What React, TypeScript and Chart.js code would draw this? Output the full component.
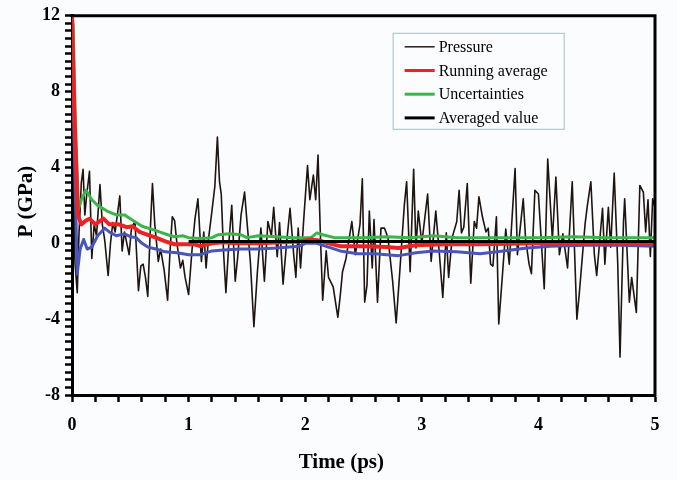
import React, { useEffect, useRef } from "react";
import { Chart, registerables } from "chart.js";

Chart.register(...registerables);

// ---- Data ----
const pressureTime = [
  0.0, 0.01, 0.025, 0.045, 0.06, 0.08, 0.095, 0.11, 0.125, 0.15, 0.17, 0.19, 0.21, 0.24, 0.26, 0.28, 0.31, 0.33, 0.35, 0.37,
  0.41, 0.43, 0.45, 0.49, 0.51, 0.54, 0.57, 0.59, 0.61, 0.63, 0.65, 0.67, 0.69, 0.71, 0.74, 0.76, 0.79, 0.82, 0.84, 0.86,
  0.88, 0.9, 0.93, 0.95, 0.97, 1.0, 1.03, 1.055, 1.08, 1.11, 1.13, 1.15, 1.17, 1.2, 1.225, 1.247, 1.265, 1.28, 1.3, 1.32,
  1.345, 1.37, 1.4, 1.42, 1.45, 1.48, 1.5, 1.53, 1.56, 1.59, 1.62, 1.65, 1.68, 1.71, 1.73, 1.76, 1.78, 1.81, 1.84, 1.87,
  1.9, 1.92, 1.94, 1.96, 1.99, 2.02, 2.04, 2.07, 2.09, 2.11, 2.13, 2.15, 2.18, 2.2, 2.24, 2.28, 2.3, 2.32, 2.35, 2.4,
  2.43, 2.47, 2.49, 2.51, 2.53, 2.55, 2.575, 2.59, 2.62, 2.65, 2.68, 2.71, 2.75, 2.78, 2.81, 2.85, 2.87, 2.9, 2.93, 2.95,
  2.97, 3.0, 3.05, 3.08, 3.12, 3.15, 3.18, 3.21, 3.23, 3.26, 3.3, 3.32, 3.34, 3.36, 3.39, 3.42, 3.45, 3.47, 3.49, 3.52,
  3.55, 3.57, 3.59, 3.61, 3.64, 3.66, 3.69, 3.72, 3.75, 3.8, 3.82, 3.87, 3.89, 3.92, 3.94, 3.97, 4.0, 4.05, 4.08, 4.12,
  4.15, 4.18, 4.21, 4.25, 4.29, 4.33, 4.35, 4.4, 4.42, 4.45, 4.48, 4.5, 4.55, 4.57, 4.6, 4.62, 4.65, 4.68, 4.7, 4.73,
  4.74, 4.78, 4.8, 4.84, 4.87, 4.9, 4.92, 4.94, 4.96, 4.98, 5.0,
];
const pressureValue = [
  12.0, 6.0, -1.0, -2.6, 0.5, 3.2, 3.9, 1.5, 2.5, 3.8, -0.8, 1.0, 0.4, 3.1, 1.0, 0.2, -1.7, 0.0, 1.1, 0.6,
  2.5, -0.4, 0.6, -0.6, 0.8, 1.15, -2.5, -1.2, -1.1, -1.8, -2.8, 0.5, 3.15, 1.0, -0.95, -0.3, -1.4, -3.0, -0.5, 1.4,
  1.2, 0.0, -1.3, -0.9, -1.8, -2.7, -0.3, 1.3, 2.35, -0.95, 0.6, -1.3, 0.2, 1.7, 3.0, 5.6, 3.25, 2.6, -0.5, -2.6,
  0.0, 2.0, -2.0, -0.8, 1.5, 2.7, 1.2, -1.0, -4.4, -1.5, 0.8, -2.0, 1.15, 0.4, 1.9, -0.7, 1.1, -2.15, 0.0, 1.85,
  -0.5, -1.8, 0.8, -1.3, 1.5, 4.1, 2.3, 3.6, 2.3, 4.65, 0.5, -3.0, -0.4, -1.8, -2.3, -3.9, -2.8, -1.5, -0.8, 1.15,
  -0.6, 1.0, 3.4, -3.1, -2.2, 1.7, -1.3, 1.25, -3.1, 0.8, 0.8, 0.3, -2.0, -4.2, -1.6, 2.0, 3.25, -1.5, 3.9, -0.25,
  1.7, 0.0, 2.6, -0.95, 1.7, -0.5, -2.85, 0.55, -1.8, 0.3, 1.15, 2.8, 0.55, 0.85, 3.15, -2.1, 1.15, 0.8, 2.45, 1.4,
  0.6, 0.8, -1.1, -1.2, 1.4, -4.25, -1.8, 0.75, -1.1, 3.95, -0.6, 2.35, 0.25, -1.1, -1.6, 2.8, 2.6, -2.4, 4.45, 0.2,
  3.5, -0.6, 0.5, -1.3, 3.25, -4.0, -2.7, 1.0, 2.0, 3.25, -0.6, -1.7, 1.85, -1.1, 1.9, -0.2, 3.7, -1.0, -6.0, 1.15,
  2.35, -3.1, -1.8, -3.65, 3.05, 2.7, 0.6, 2.3, -0.7, 2.35, 1.9,
];

const runningTime = [
  0, 0.02, 0.05, 0.08, 0.12, 0.15, 0.2, 0.27, 0.32, 0.4, 0.47, 0.52, 0.58, 0.65, 0.72, 0.8, 0.88, 0.95, 1.05, 1.1,
  1.2, 1.3, 1.4, 1.6, 1.8, 1.95, 2.05, 2.12, 2.2, 2.3, 2.5, 2.7, 2.8, 2.95, 3.2, 3.5, 4.0, 4.5, 5.0,
];
const runningValue = [
  12, 7, 1.5, 1.0, 1.2, 1.3, 1.0, 1.3, 1.0, 1.0, 0.85, 0.9, 0.6, 0.45, 0.3, 0.1, -0.05, -0.05, -0.05, -0.15,
  0.0, 0.05, 0.0, 0.0, 0.05, 0.1, 0.2, 0.15, 0.0, -0.15, -0.15, -0.2, -0.25, -0.1, -0.05, -0.05, 0.0, 0.0, 0.0,
];

const upperTime = [
  0, 0.01, 0.03, 0.055, 0.08, 0.12, 0.17, 0.22, 0.3, 0.38, 0.45, 0.5, 0.55, 0.6, 0.68, 0.75, 0.82, 0.88, 0.95, 1.0,
  1.1, 1.2, 1.25, 1.35, 1.45, 1.5, 1.6, 1.75, 1.9, 2.05, 2.1, 2.15, 2.25, 2.5, 2.7, 2.9, 3.1, 3.3, 3.5, 3.8,
  4.0, 4.3, 4.6, 5.0,
];
const upperValue = [
  12, 11.5, 6, 1.8, 2.3, 2.8, 2.3, 2.0, 1.7, 1.5, 1.5, 1.3, 1.1, 0.9, 0.75, 0.6, 0.45, 0.35, 0.4, 0.3,
  0.25, 0.3, 0.45, 0.5, 0.45, 0.3, 0.4, 0.35, 0.3, 0.3, 0.55, 0.45, 0.3, 0.3, 0.35, 0.3, 0.4, 0.3, 0.3, 0.3,
  0.3, 0.35, 0.3, 0.3,
];

const lowerTime = [
  0, 0.02, 0.045, 0.07, 0.1, 0.13, 0.17, 0.22, 0.28, 0.32, 0.38, 0.45, 0.5, 0.55, 0.6, 0.65, 0.72, 0.8, 0.9, 1.0,
  1.1, 1.2, 1.3, 1.45, 1.6, 1.75, 1.95, 2.0, 2.1, 2.2, 2.3, 2.45, 2.6, 2.8, 2.95, 3.1, 3.3, 3.5, 3.7, 3.9,
  4.1, 4.4, 4.7, 5.0,
];
const lowerValue = [
  10.3, 5, -1.6, -0.3, 0.2, -0.3, -0.2, 0.4, 0.8, 0.6, 0.4, 0.5, 0.35, 0.3, 0.0, -0.2, -0.3, -0.45, -0.5, -0.6,
  -0.6, -0.4, -0.35, -0.3, -0.3, -0.25, -0.15, 0.0, 0.0, -0.2, -0.4, -0.55, -0.55, -0.65, -0.5, -0.4, -0.45, -0.55, -0.4, -0.25,
  -0.15, -0.1, -0.1, -0.15,
];

const averagedTime = [1, 5];
const averagedValue = [0.1, 0.1];

const legendLabels = ["Pressure", "Running average", "Uncertainties", "Averaged value"];
const xTitle = "Time (ps)";
const yTitle = "P (GPa)";

const xMin = 0, xMax = 5, xMajor = 1, xMinor = 0.2;
const yMin = -8, yMax = 12, yMajor = 4, yMinor = 0.4;

const toPoints = (t: number[], v: number[]) => t.map((x, i) => ({ x, y: v[i] }));

const SERIF = "'Liberation Serif', 'Times New Roman', serif";

function makeTicks(min: number, max: number, step: number) {
  const out: { value: number }[] = [];
  const n = Math.round((max - min) / step);
  for (let i = 0; i <= n; i++) out.push({ value: +(min + i * step).toFixed(4) });
  return out;
}

const framePlugin = {
  id: "frame",
  afterDraw(chart: any) {
    const { ctx, chartArea } = chart;
    const { left, right, top, bottom } = chartArea;
    ctx.save();
    // top and right borders
    ctx.strokeStyle = "#000";
    ctx.lineWidth = 3;
    ctx.beginPath();
    ctx.moveTo(left - 1.5, top);
    ctx.lineTo(right, top);
    ctx.lineTo(right, bottom + 1.5);
    ctx.stroke();

    // axis titles
    ctx.fillStyle = "#000";
    ctx.font = `bold 21px ${SERIF}`;
    ctx.textAlign = "center";
    ctx.textBaseline = "middle";
    ctx.fillText(xTitle, left + (right - left) * 0.462, bottom + 68);
    ctx.save();
    ctx.translate(27, top + (bottom - top) * 0.49);
    ctx.rotate(-Math.PI / 2);
    ctx.fillText(yTitle, 0, 0);
    ctx.restore();

    // legend box
    const bx = left + (right - left) * 0.55;
    const by = top + 17;
    const bw = 171;
    const bh = 96;
    ctx.fillStyle = "#fbfcfe";
    ctx.fillRect(bx, by, bw, bh);
    ctx.strokeStyle = "#a9b9c9";
    ctx.lineWidth = 1;
    ctx.strokeRect(bx + 0.5, by + 0.5, bw, bh);
    const styles = [
      { color: "#2a1a14", width: 1.5 },
      { color: "#ee2222", width: 3 },
      { color: "#3cb44a", width: 3 },
      { color: "#000000", width: 3 },
    ];
    ctx.font = `16px ${SERIF}`;
    ctx.textAlign = "left";
    legendLabels.forEach((lab, i) => {
      const y = by + 14 + i * 23.7;
      ctx.strokeStyle = styles[i].color;
      ctx.lineWidth = styles[i].width;
      ctx.beginPath();
      ctx.moveTo(bx + 12, y);
      ctx.lineTo(bx + 42, y);
      ctx.stroke();
      ctx.fillStyle = "#000";
      ctx.fillText(lab, bx + 46, y + 1);
    });
    ctx.restore();
  },
};

export default function App() {
  const ref = useRef<HTMLCanvasElement | null>(null);

  useEffect(() => {
    if (!ref.current) return;
    const chart = new Chart(ref.current, {
      type: "line",
      data: {
        datasets: [
          {
            label: legendLabels[3],
            data: toPoints(averagedTime, averagedValue),
            borderColor: "#000000",
            borderWidth: 3,
            order: 1,
          },
          {
            label: legendLabels[1],
            data: toPoints(runningTime, runningValue),
            borderColor: "#ee2222",
            borderWidth: 4,
            order: 2,
          },
          {
            label: "Lower uncertainty",
            data: toPoints(lowerTime, lowerValue),
            borderColor: "#4a55b8",
            borderWidth: 3,
            order: 3,
          },
          {
            label: legendLabels[2],
            data: toPoints(upperTime, upperValue),
            borderColor: "#3cb44a",
            borderWidth: 3,
            order: 4,
          },
          {
            label: legendLabels[0],
            data: toPoints(pressureTime, pressureValue),
            borderColor: "#1e1410",
            borderWidth: 1.6,
            order: 5,
          },
        ],
      },
      options: {
        animation: false,
        responsive: false,
        maintainAspectRatio: false,
        devicePixelRatio: 1,
        parsing: false as any,
        elements: {
          point: { radius: 0 },
          line: { tension: 0, fill: false, borderJoinStyle: "round" },
        },
        layout: { padding: { top: 13, right: 22, left: 0, bottom: 0 } },
        plugins: {
          legend: { display: false },
          tooltip: { enabled: false },
          title: { display: false },
        },
        scales: {
          x: {
            type: "linear",
            min: xMin,
            max: xMax,
            afterBuildTicks: (s: any) => {
              s.ticks = makeTicks(xMin, xMax, xMinor);
            },
            afterFit: (s: any) => {
              s.height = 85;
            },
            ticks: {
              autoSkip: false,
              maxRotation: 0,
              padding: 13,
              color: "#000",
              font: { family: SERIF, weight: "bold", size: 18 },
              callback: (v: any) => {
                const r = Math.round(v / xMajor) * xMajor;
                return Math.abs(v - r) < 1e-6 ? String(r) : "";
              },
            },
            grid: {
              drawOnChartArea: false,
              drawTicks: true,
              tickLength: 7,
              tickColor: "#000",
              tickWidth: 2.5,
            },
            border: { display: true, color: "#000", width: 3 },
          },
          y: {
            type: "linear",
            min: yMin,
            max: yMax,
            afterBuildTicks: (s: any) => {
              s.ticks = makeTicks(yMin, yMax, yMinor);
            },
            afterFit: (s: any) => {
              s.width = 72;
            },
            ticks: {
              autoSkip: false,
              padding: 5,
              color: "#000",
              font: { family: SERIF, weight: "bold", size: 18 },
              callback: (v: any) => {
                const r = Math.round(v / yMajor) * yMajor;
                return Math.abs(v - r) < 1e-6 ? String(r) : "";
              },
            },
            grid: {
              drawOnChartArea: false,
              drawTicks: true,
              tickLength: 7,
              tickColor: "#000",
              tickWidth: 2.5,
            },
            border: { display: true, color: "#000", width: 3 },
          },
        },
      },
      plugins: [framePlugin],
    });
    return () => chart.destroy();
  }, []);

  return (
    <div
      style={{
        position: "fixed",
        left: 0,
        top: 0,
        width: 677,
        height: 480,
        background: "#fbfcfe",
      }}
    >
      <canvas ref={ref} width={677} height={480} style={{ width: 677, height: 480, display: "block" }} />
    </div>
  );
}
